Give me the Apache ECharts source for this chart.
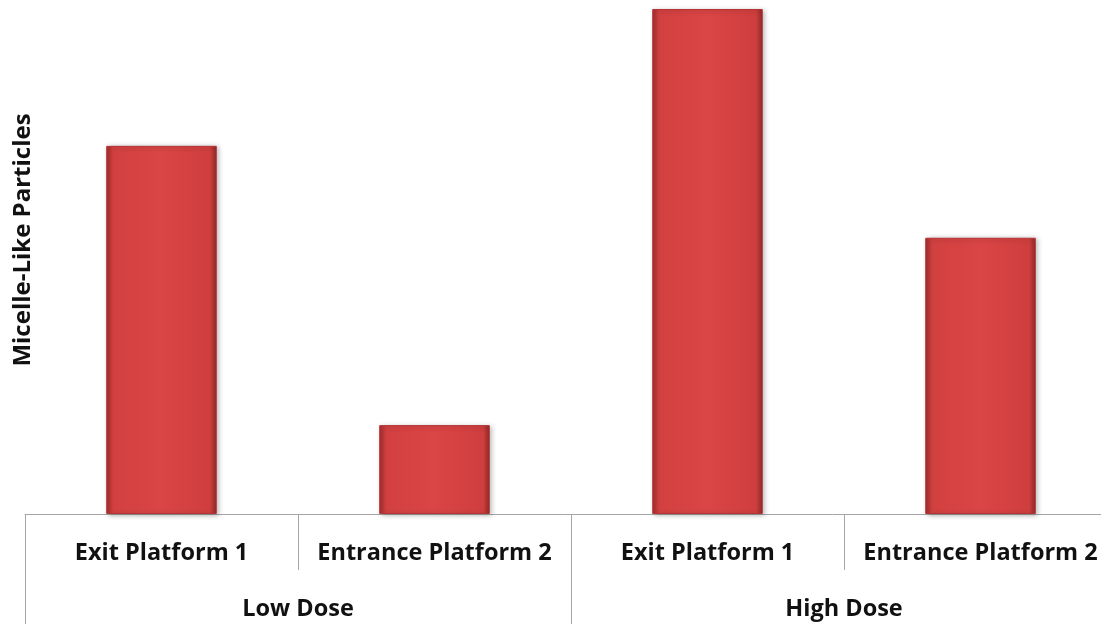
<!DOCTYPE html>
<html>
<head>
<meta charset="utf-8">
<script src="https://cdn.jsdelivr.net/npm/echarts@6/dist/echarts.min.js"></script>
<style>
html,body{margin:0;padding:0;background:#fff;}
#chart{width:1101px;height:624px;}
</style>
</head>
<body>
<div id="chart"></div>
<script>
const categories = ['Exit Platform 1', 'Entrance Platform 2', 'Exit Platform 1', 'Entrance Platform 2'];
const groups = ['Low Dose', 'High Dose'];
const values = [72.9, 17.6, 100, 54.7];
const yTitle = 'Micelle-Like Particles';

const chart = echarts.init(document.getElementById('chart'), null, {renderer: 'canvas'});
const font = '"Open Sans", "DejaVu Sans", sans-serif';
const barFill = new echarts.graphic.LinearGradient(0, 0, 1, 0, [
  {offset: 0, color: '#a02d2d'},
  {offset: 0.06, color: '#d24040'},
  {offset: 0.5, color: '#da4545'},
  {offset: 0.94, color: '#cf3e3e'},
  {offset: 1, color: '#8e2828'}
]);
chart.setOption({
  animation: false,
  backgroundColor: '#ffffff',
  grid: {left: 25, top: 9, width: 1092, bottom: 110, containLabel: false, outerBoundsMode: 'none'},
  xAxis: [
    {
      type: 'category',
      data: categories,
      position: 'bottom',
      axisLine: {show: true, lineStyle: {color: '#a6a6a6', width: 1}},
      axisTick: {show: true, length: 56, lineStyle: {color: '#a6a6a6'}},
      axisLabel: {margin: 27, color: '#111', fontFamily: font, fontWeight: 'bold', fontSize: 23.5, interval: 0, hideOverlap: false}
    },
    {
      type: 'category',
      data: groups,
      position: 'bottom',
      axisLine: {show: false},
      axisTick: {show: true, length: 110, lineStyle: {color: '#a6a6a6'}},
      axisLabel: {margin: 83, color: '#111', fontFamily: font, fontWeight: 'bold', fontSize: 23.5, interval: 0, hideOverlap: false}
    }
  ],
  yAxis: {
    type: 'value',
    min: 0,
    max: 100,
    axisLine: {show: false},
    axisTick: {show: false},
    axisLabel: {show: false},
    splitLine: {show: false}
  },
  graphic: [{
    type: 'text',
    x: 23,
    y: 240,
    rotation: Math.PI / 2,
    style: {
      text: yTitle,
      fill: '#111',
      font: 'bold 24px ' + font,
      textAlign: 'center',
      textVerticalAlign: 'middle'
    }
  }],
  series: [{
    type: 'bar',
    xAxisIndex: 0,
    data: values,
    barWidth: '40.5%',
    itemStyle: {
      color: barFill,
      borderColor: '#b53535',
      borderWidth: 1,
      shadowColor: 'rgba(0,0,0,0.3)',
      shadowBlur: 5,
      shadowOffsetX: 2,
      shadowOffsetY: 1
    }
  }]
});
</script>
</body>
</html>
